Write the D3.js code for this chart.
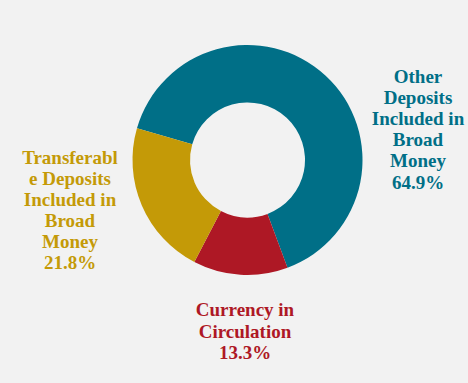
<!DOCTYPE html>
<html>
<head>
<meta charset="utf-8">
<script src="https://cdn.jsdelivr.net/npm/d3@7"></script>
<style>
  html, body { margin: 0; padding: 0; background: #f2f2f2; }
  svg { display: block; }
</style>
</head>
<body>
<svg id="chart" width="468" height="383"></svg>
<script>
// Broad money components, share of total (%)
const categories = ["Other Deposits Included in Broad Money", "Currency in Circulation", "Transferable Deposits Included in Broad Money"];
const shares = [64.9, 13.3, 21.8];
const labelLines = [
  ["Other", "Deposits", "Included in", "Broad", "Money"],
  ["Currency in", "Circulation"],
  ["Transferabl", "e Deposits", "Included in", "Broad", "Money"]
];
const colors = ["#006f87", "#ae1825", "#c49a07"];

const svg = d3.select("#chart");
const cx = 247.5, cy = 160, outerR = 115, innerR = 57.5;

const pie = d3.pie()
  .sort(null)
  .value(d => d.value)
  .startAngle(-74 * Math.PI / 180)
  .endAngle(286 * Math.PI / 180);

const data = categories.map((c, i) => ({ name: c, value: shares[i], lines: labelLines[i], color: colors[i] }));
const arcs = pie(data);

const arc = d3.arc().innerRadius(innerR).outerRadius(outerR);

const g = svg.append("g").attr("transform", `translate(${cx},${cy})`);
g.selectAll("path")
  .data(arcs)
  .join("path")
  .attr("d", arc)
  .attr("fill", d => d.data.color);

// label anchor (centre x, first baseline y) and line spacing for each slice
const labelPos = [
  { x: 418, y: 82.5, dy: 21.2 },
  { x: 245, y: 316, dy: 21.6 },
  { x: 70, y: 163.5, dy: 21 }
];

const fmt = d3.format(".1f");
arcs.forEach((a, i) => {
  const p = labelPos[i];
  const t = svg.append("text")
    .attr("text-anchor", "middle")
    .attr("font-family", "'Liberation Serif', 'Times New Roman', serif")
    .attr("font-weight", "bold")
    .attr("font-size", 19)
    .attr("fill", a.data.color);
  const lines = a.data.lines.concat([fmt(a.data.value) + "%"]);
  lines.forEach((ln, j) => {
    t.append("tspan")
      .attr("x", p.x)
      .attr("y", p.y + j * p.dy)
      .text(ln);
  });
});
</script>
</body>
</html>
